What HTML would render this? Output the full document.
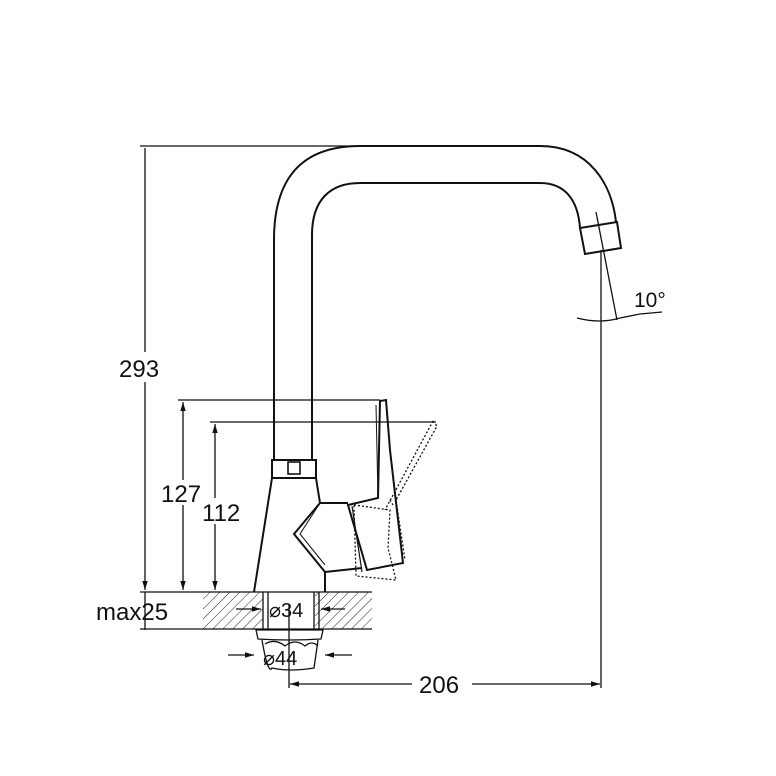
<!DOCTYPE html><html><head><style>body{margin:0;background:#fff}svg{display:block}text{font-family:"Liberation Sans",Arial,sans-serif;fill:#111}</style></head><body>
<svg width="776" height="776" viewBox="0 0 776 776" xmlns="http://www.w3.org/2000/svg">
<defs><pattern id="h" width="7" height="7" patternUnits="userSpaceOnUse" patternTransform="rotate(45)"><line x1="0" y1="0" x2="0" y2="7" stroke="#222" stroke-width="1"/></pattern>
<marker id="a" viewBox="0 0 10 10" refX="10" refY="5" markerWidth="7" markerHeight="7" orient="auto-start-reverse"><path d="M0,2 L10,5 L0,8z" fill="#111"/></marker></defs>
<g fill="none" stroke="#111" stroke-width="1.3">
<path d="M274,460 L274,240 C274,180 300,146 360,146 L540,146 C590,146 612,185 616,222" stroke-width="2"/>
<path d="M312,460 L312,235 C312,200 330,183 360,183 L540,183 C565,183 578,200 580,228" stroke-width="2"/>
<path d="M580,228 L617,222 L621,248 L585,254 Z" stroke-width="2"/>
<line x1="596" y1="212" x2="617" y2="320"/>
<line x1="601" y1="250" x2="601" y2="688"/>
<path d="M577,318 Q600,324 620,318"/>
<path d="M620,318 L640,314 L662,312"/>
<line x1="140" y1="146" x2="360" y2="146"/>
<line x1="178" y1="400" x2="380" y2="400"/>
<line x1="210" y1="422" x2="436" y2="422"/>
<line x1="145" y1="148" x2="145" y2="352"/>
<line x1="145" y1="382" x2="145" y2="590" marker-end="url(#a)"/>
<line x1="145" y1="592" x2="145" y2="630"/>
<line x1="183" y1="402" x2="183" y2="480" marker-start="url(#a)"/>
<line x1="183" y1="505" x2="183" y2="590" marker-end="url(#a)"/>
<line x1="215" y1="424" x2="215" y2="498" marker-start="url(#a)"/>
<line x1="215" y1="524" x2="215" y2="590" marker-end="url(#a)"/>
<line x1="140" y1="592" x2="372" y2="592"/>
<line x1="140" y1="629" x2="372" y2="629"/>
<rect x="203" y="592" width="60" height="37" fill="url(#h)" stroke="none"/>
<rect x="315" y="592" width="57" height="37" fill="url(#h)" stroke="none"/>
<line x1="263" y1="592" x2="263" y2="629"/><line x1="268" y1="592" x2="268" y2="629"/>
<line x1="314" y1="592" x2="314" y2="629"/><line x1="319" y1="592" x2="319" y2="629"/>
<line x1="236" y1="609" x2="261" y2="609" marker-end="url(#a)"/>
<line x1="345" y1="609" x2="321" y2="609" marker-end="url(#a)"/>
<path d="M256,630 L323,630 L321,639 Q290,641 258,639 Z"/>
<path d="M262,640 Q268,675 272,668 Q290,672 314,668 L318,640"/>
<path d="M265,644 Q275,638 285,646 Q295,638 305,646 Q312,640 318,646"/>
<line x1="228" y1="655" x2="254" y2="655" marker-end="url(#a)"/>
<line x1="352" y1="655" x2="325" y2="655" marker-end="url(#a)"/>
<line x1="289" y1="605" x2="289" y2="688"/>
<line x1="290" y1="684" x2="412" y2="684" marker-start="url(#a)"/>
<line x1="472" y1="684" x2="600" y2="684" marker-end="url(#a)"/>
<rect x="272" y="460" width="44" height="18" stroke-width="2"/>
<rect x="288" y="462" width="12" height="12" stroke-width="1.6"/>
<path d="M254,592 L272,478 M316,478 L320,503 L348,503 M320,503 L294,534 L325,572 L325,592 M325,572 L362,568" stroke-width="2"/>
<path d="M320,503 L300,534 L325,565" stroke-width="1"/>
<path d="M380,401 L386,400 L390,450 L403,563 L367,570 L348,505 L378,498 Z" stroke-width="2"/>
<path d="M376,405 L378,498" stroke-width="1"/>
<path d="M352,506 L362,572" stroke-width="1.2"/>
<path d="M433,421 L437,426 L396,500 L405,560 M390,500 L393,505 M354,505 L390,510 L388,548 L396,580 L356,576 Z" stroke-width="1.3" stroke-dasharray="2,2"/>
<path d="M433,421 L385,510" stroke-dasharray="2,2"/>
</g>
<rect x="118" y="354" width="50" height="26" fill="#fff"/>
<text x="119" y="377" font-size="24">293</text>
<text x="161" y="502" font-size="24">127</text>
<text x="202" y="521" font-size="24">112</text>
<text x="96" y="620" font-size="24">max25</text>
<text x="634" y="307" font-size="21">10°</text>
<text x="269" y="617" font-size="20">⌀34</text>
<text x="263" y="665" font-size="20">⌀44</text>
<text x="419" y="693" font-size="24">206</text>
</svg></body></html>
